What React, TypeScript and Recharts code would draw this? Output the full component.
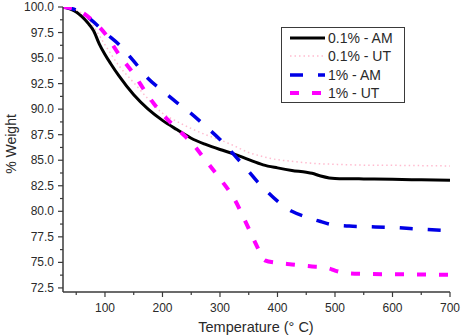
import React from 'react';
import { LineChart, Line, XAxis, YAxis, Legend } from 'recharts';

const tempsAm01 = [27, 40, 50, 60, 70, 80, 90, 100, 110, 125, 150, 175, 200, 225, 250, 275, 300, 325, 350, 375, 400, 425, 450, 460, 475, 490, 500, 525, 550, 600, 650, 700];
const am01 = [100, 99.8, 99.5, 99.05, 98.45, 97.7, 96.4, 95.35, 94.45, 93.2, 91.4, 90.0, 88.9, 88.0, 87.15, 86.55, 86.05, 85.6, 85.05, 84.55, 84.25, 84.0, 83.82, 83.72, 83.45, 83.27, 83.22, 83.19, 83.17, 83.13, 83.08, 83.03];

const temps = [27, 50, 75, 100, 125, 150, 175, 200, 225, 250, 275, 300, 325, 350, 365, 378, 400, 425, 450, 460, 475, 490, 500, 525, 550, 600, 650, 700];
const ut01 = [100, 99.7, 98.5, 96.3, 94.2, 92.6, 91.0, 89.6, 88.8, 88.1, 87.5, 87.0, 86.4, 85.75, 85.5, 85.3, 85.05, 84.9, 84.75, 84.7, 84.65, 84.62, 84.6, 84.55, 84.52, 84.5, 84.47, 84.44];
const am1 = [100, 99.7, 98.8, 97.5, 96.3, 94.7, 93.0, 91.8, 90.65, 89.56, 88.32, 87.03, 85.5, 83.9, 82.9, 82.16, 81.0, 80.0, 79.45, 79.25, 79.0, 78.75, 78.65, 78.55, 78.5, 78.42, 78.25, 78.1];
const ut1 = [100, 99.75, 98.85, 97.4, 95.3, 93.45, 91.3, 89.5, 88.1, 86.75, 85.0, 83.2, 81.2, 78.3, 76.5, 75.2, 74.95, 74.8, 74.65, 74.6, 74.55, 74.4, 74.2, 73.93, 73.88, 73.83, 73.82, 73.78];

const seriesNames = ['0.1% - AM', '0.1% - UT', '1% - AM', '1% - UT'];
const yTicks = Array.from({ length: 23 }, (_, i) => 72.5 + i * 1.25);
const xTicks = [50, 100, 150, 200, 250, 300, 350, 400, 450, 500, 550, 600, 650, 700];

const toRows = (ts: number[], vs: number[]) => ts.map((t, i) => ({ t, w: vs[i] }));
const seriesData = [toRows(tempsAm01, am01), toRows(temps, ut01), toRows(temps, am1), toRows(temps, ut1)];

const FONT = '"Liberation Sans", Arial, sans-serif';
const AXIS = '#3a3a3a';
const TXT = '#2a2a2a';

const styles = [
  { key: 'a', stroke: '#000000', width: 3, dash: undefined as string | undefined },
  { key: 'b', stroke: '#ffbcd0', width: 1.5, dash: '1.5 3' },
  { key: 'c', stroke: '#0000e6', width: 3.5, dash: '13 15' },
  { key: 'd', stroke: '#ff00ff', width: 4, dash: '9 13' },
];

const YTick = (props: any) => {
  const { x, y, payload } = props;
  const v = payload.value as number;
  const major = Math.abs(v / 2.5 - Math.round(v / 2.5)) < 1e-6;
  return (
    <g>
      <line x1={x} x2={x - (major ? 5 : 3)} y1={y} y2={y} stroke={AXIS} strokeWidth={1.2} />
      {major && (
        <text x={x - 9} y={y} textAnchor="end" dominantBaseline="central" fontSize={12} fontFamily={FONT} fill={TXT}>
          {v.toFixed(1)}
        </text>
      )}
    </g>
  );
};

const XTick = (props: any) => {
  const { x, y, payload } = props;
  const v = payload.value as number;
  const major = v % 100 === 0;
  return (
    <g>
      <line x1={x} x2={x} y1={y} y2={y + (major ? 5 : 3)} stroke={AXIS} strokeWidth={1.2} />
      {major && (
        <text x={x} y={y + 20} textAnchor="middle" fontSize={12} fontFamily={FONT} fill={TXT}>
          {v}
        </text>
      )}
    </g>
  );
};

const LegendBox = () => (
  <div
    style={{
      boxSizing: 'border-box',
      width: 124,
      height: 76,
      border: `1px solid ${AXIS}`,
      background: '#fff',
      paddingTop: 1,
      paddingLeft: 8,
      fontFamily: FONT,
      fontSize: 14,
      color: TXT,
    }}
  >
    {styles.map((s, i) => (
      <div key={s.key} style={{ height: 18.3, display: 'flex', alignItems: 'center' }}>
        <svg width={35} height={10} style={{ display: 'block' }}>
          <line x1={0} x2={35} y1={5} y2={5} stroke={s.stroke} strokeWidth={s.width} strokeDasharray={s.dash} />
        </svg>
        <span style={{ marginLeft: 3, lineHeight: '18px' }}>{seriesNames[i]}</span>
      </div>
    ))}
  </div>
);

export default function App() {
  return (
    <div style={{ position: 'absolute', left: 0, top: 0, width: 463, height: 336, background: '#fff' }}>
      <LineChart width={463} height={336} margin={{ top: 7, right: 13, bottom: 14, left: 0 }}>
        <XAxis
          dataKey="t"
          type="number"
          domain={[27, 700]}
          ticks={xTicks}
          interval={0}
          allowDataOverflow
          height={30}
          tickSize={0}
          tickMargin={0}
          tickLine={false}
          tick={<XTick />}
          axisLine={{ stroke: AXIS, strokeWidth: 1.5 }}
          label={{
            content: () => (
              <text x={256} y={332} textAnchor="middle" fontSize={14.5} fontFamily={FONT} fill={TXT}>
                Temperature (° C)
              </text>
            ),
          }}
        />
        <XAxis
          xAxisId="top"
          orientation="top"
          dataKey="t"
          type="number"
          domain={[27, 700]}
          height={0}
          tick={false}
          tickLine={false}
          axisLine={{ stroke: AXIS, strokeWidth: 1.5 }}
        />
        <YAxis
          type="number"
          domain={[72.1, 100]}
          ticks={yTicks}
          interval={0}
          allowDataOverflow
          width={63}
          tickSize={0}
          tickMargin={0}
          tickLine={false}
          tick={<YTick />}
          axisLine={{ stroke: AXIS, strokeWidth: 1.5 }}
          label={{
            content: () => (
              <text
                x={11}
                y={144}
                transform="rotate(-90 11 144)"
                textAnchor="middle"
                dominantBaseline="central"
                fontSize={14}
                fontFamily={FONT}
                fill={TXT}
              >
                % Weight
              </text>
            ),
          }}
        />
        <YAxis
          yAxisId="right"
          orientation="right"
          type="number"
          domain={[72.1, 100]}
          width={0}
          tick={false}
          tickLine={false}
          axisLine={{ stroke: AXIS, strokeWidth: 1.5 }}
        />
        <Legend
          layout="vertical"
          align="center"
          verticalAlign="middle"
          wrapperStyle={{ position: 'absolute', left: 281, top: 27, width: 124, height: 76 }}
          content={<LegendBox />}
        />
        {styles.map((s, i) => (
          <Line
            key={s.key}
            data={seriesData[i]}
            dataKey="w"
            name={seriesNames[i]}
            type="monotone"
            stroke={s.stroke}
            strokeWidth={s.width}
            strokeDasharray={s.dash}
            dot={false}
            activeDot={false}
            isAnimationActive={false}
          />
        ))}
      </LineChart>
    </div>
  );
}
